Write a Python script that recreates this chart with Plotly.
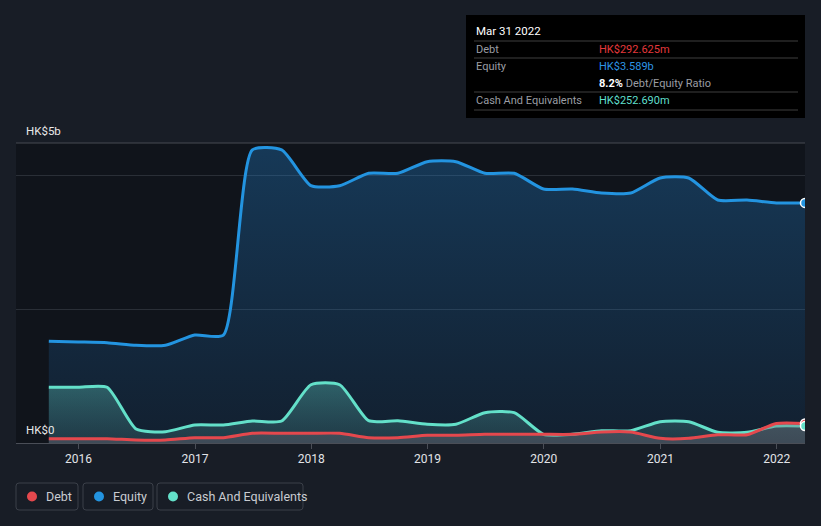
import plotly.graph_objects as go

# ---------------- data ----------------
dates = ["2015-09-30", "2015-12-31", "2016-03-31", "2016-06-30", "2016-09-30",
         "2016-12-31", "2017-03-31", "2017-06-30", "2017-09-30", "2017-12-31",
         "2018-03-31", "2018-06-30", "2018-09-30", "2018-12-31", "2019-03-31",
         "2019-06-30", "2019-09-30", "2019-12-31", "2020-03-31", "2020-06-30",
         "2020-09-30", "2020-12-31", "2021-03-31", "2021-06-30", "2021-09-30",
         "2021-12-31", "2022-03-31"]

# values in HK$ millions
debt = [64, 64, 64, 45, 45, 79, 79, 145, 145, 145, 145, 79, 79, 115, 115,
        130, 130, 130, 130, 164, 164, 70, 70, 124, 124, 292.6, 292.625]
equity = [1520, 1510, 1499, 1460, 1460, 1614, 1614, 4380, 4380, 3846, 3846,
          4031, 4031, 4205, 4205, 4031, 4031, 3797, 3797, 3737, 3737, 3961,
          3961, 3632, 3632, 3589, 3589]
cash = [833, 833, 833, 209, 169, 269, 269, 329, 329, 871, 871, 333, 333, 280,
        280, 453, 453, 130, 130, 184, 184, 318, 318, 160, 160, 252.7, 252.69]

year_ticks = ["2016-01-01", "2017-01-01", "2018-01-01", "2019-01-01",
              "2020-01-01", "2021-01-01", "2022-01-01"]
year_labels = ["2016", "2017", "2018", "2019", "2020", "2021", "2022"]

series_names = ["Debt", "Equity", "Cash And Equivalents"]

# ---------------- style ----------------
W, H = 821, 526
L, R, T, B = 16, 16, 143, 83
PW, PH = W - L - R, H - T - B
BG = "#181d26"
PLOT_BG = "#10141b"
FONT = "Roboto"
C_DEBT = "#e5484d"
C_EQ = "#2394e0"
C_CASH = "#63e0c9"


def px(x):
    return (x - L) / PW


def py(y):
    return (H - B - y) / PH


def m(v):
    return [val * 1e6 for val in v]


def rounded_rect(x0, y0, x1, y1, r=3):
    pts = [
        f"M {px(x0 + r)},{py(y0)}",
        f"L {px(x1 - r)},{py(y0)}",
        f"Q {px(x1)},{py(y0)} {px(x1)},{py(y0 + r)}",
        f"L {px(x1)},{py(y1 - r)}",
        f"Q {px(x1)},{py(y1)} {px(x1 - r)},{py(y1)}",
        f"L {px(x0 + r)},{py(y1)}",
        f"Q {px(x0)},{py(y1)} {px(x0)},{py(y1 - r)}",
        f"L {px(x0)},{py(y0 + r)}",
        f"Q {px(x0)},{py(y0)} {px(x0 + r)},{py(y0)}",
        "Z",
    ]
    return " ".join(pts)


fig = go.Figure()

fig.add_trace(go.Scatter(
    x=dates, y=m(equity), mode="lines", name=series_names[1],
    line=dict(color=C_EQ, width=3, shape="spline", smoothing=0.6),
    fill="tozeroy", fillgradient=dict(type="vertical",
                                      colorscale=[[0, "rgba(33,120,200,0.12)"], [1, "rgba(35,135,215,0.32)"]]),
    showlegend=False, hoverinfo="skip"))
fig.add_trace(go.Scatter(
    x=dates, y=m(cash), mode="lines", name=series_names[2],
    line=dict(color=C_CASH, width=3, shape="spline", smoothing=0.6),
    fill="tozeroy", fillgradient=dict(type="vertical",
                                      colorscale=[[0, "rgba(90,170,170,0.18)"], [1, "rgba(100,215,200,0.34)"]]),
    showlegend=False, hoverinfo="skip"))
fig.add_trace(go.Scatter(
    x=dates, y=m(debt), mode="lines", name=series_names[0],
    line=dict(color=C_DEBT, width=3, shape="spline", smoothing=0.6),
    fill="tozeroy", fillcolor="rgba(120,110,120,0.35)",
    showlegend=False, hoverinfo="skip", opacity=0.9))

# end markers
for vals, col in [(debt, C_DEBT), (cash, C_CASH), (equity, C_EQ)]:
    fig.add_trace(go.Scatter(
        x=[dates[-1]], y=[vals[-1] * 1e6], mode="markers",
        marker=dict(size=9, color=col, line=dict(color="white", width=1.5)),
        showlegend=False, hoverinfo="skip"))

fig.update_layout(
    width=W, height=H,
    margin=dict(l=L, r=R, t=T, b=B),
    paper_bgcolor=BG, plot_bgcolor=PLOT_BG,
    font=dict(family=FONT, color="#dddddd"),
    showlegend=False,
    xaxis=dict(
        type="date", range=["2015-06-19", "2022-03-31"],
        tickvals=year_ticks, ticktext=year_labels,
        showgrid=False, zeroline=False,
        showline=True, linecolor="#4a4e57", linewidth=1,
        ticks="outside", ticklen=5, tickcolor="#4a4e57",
        tickfont=dict(family=FONT, size=12, color="#e2e4e8"),
    ),
    yaxis=dict(
        range=[0, 4.484e9], tickvals=[0, 2e9, 4e9],
        showticklabels=False, showgrid=True, gridcolor="#2a2f37", gridwidth=1,
        zeroline=False, showline=False, fixedrange=True,
    ),
    hovermode=False,
)

shapes = [
    dict(type="line", xref="paper", yref="paper", x0=0, x1=1, y0=1, y1=1,
         line=dict(color="#464a52", width=1)),
    dict(type="rect", xref="paper", yref="paper", x0=px(466), x1=px(805), y0=py(15), y1=py(118),
         fillcolor="#000000", line=dict(color="#000000", width=0), layer="above"),
]
for yy in [41, 58, 92, 110]:
    shapes.append(dict(type="line", xref="paper", yref="paper", x0=px(474), x1=px(798),
                       y0=py(yy), y1=py(yy), line=dict(color="#3f3f3f", width=1), layer="above"))

annotations = [
    dict(text="HK$5b", x=px(24), y=py(131), xanchor="left", yanchor="middle",
         font=dict(family=FONT, size=11.5, color="#e8e8e8")),
    dict(text="HK$0", x=px(24), y=py(430), xanchor="left", yanchor="middle",
         font=dict(family=FONT, size=11.5, color="#e8e8e8")),
    dict(text="Mar 31 2022", x=px(474), y=py(31), xanchor="left", yanchor="middle",
         font=dict(family=FONT, size=11.5, color="#ffffff")),
    dict(text="Debt", x=px(474), y=py(49.5), xanchor="left", yanchor="middle",
         font=dict(family=FONT, size=11, color="#9a9da3")),
    dict(text="HK$292.625m", x=px(597), y=py(49.5), xanchor="left", yanchor="middle",
         font=dict(family=FONT, size=11, color="#e5383b")),
    dict(text="Equity", x=px(474), y=py(66.5), xanchor="left", yanchor="middle",
         font=dict(family=FONT, size=11, color="#9a9da3")),
    dict(text="HK$3.589b", x=px(597), y=py(66.5), xanchor="left", yanchor="middle",
         font=dict(family=FONT, size=11, color="#2d95e5")),
    dict(text="<b>8.2%</b> <span style='color:#9a9da3'>Debt/Equity Ratio</span>",
         x=px(597), y=py(83.5), xanchor="left", yanchor="middle",
         font=dict(family=FONT, size=11, color="#ffffff")),
    dict(text="Cash And Equivalents", x=px(474), y=py(100.5), xanchor="left", yanchor="middle",
         font=dict(family=FONT, size=11, color="#9a9da3")),
    dict(text="HK$252.690m", x=px(597), y=py(100.5), xanchor="left", yanchor="middle",
         font=dict(family=FONT, size=11, color="#5fdfcb")),
]

legend_boxes = [(16, 78, 32, 44), (83, 153, 99, 111), (157, 303, 173, 185)]
for name, col, (bx0, bx1, cx, tx) in zip(series_names, [C_DEBT, C_EQ, C_CASH], legend_boxes):
    shapes.append(dict(type="path", xref="paper", yref="paper",
                       path=rounded_rect(bx0, 483, bx1, 510, 3),
                       line=dict(color="#3b4049", width=1), fillcolor="rgba(0,0,0,0)"))
    shapes.append(dict(type="circle", xref="paper", yref="paper",
                       x0=px(cx - 5), x1=px(cx + 5), y0=py(496.5 - 5), y1=py(496.5 + 5),
                       fillcolor=col, line=dict(width=0)))
    annotations.append(dict(text=name, x=px(tx), y=py(496.5), xanchor="left", yanchor="middle",
                            font=dict(family=FONT, size=12.5, color="#c9ccd1")))

for a in annotations:
    a.update(xref="paper", yref="paper", showarrow=False)

fig.update_layout(shapes=shapes, annotations=annotations)

fig.write_html("out.html", config={"displayModeBar": False},
               post_script="document.body.style.margin='0';document.body.style.overflow='hidden';")
